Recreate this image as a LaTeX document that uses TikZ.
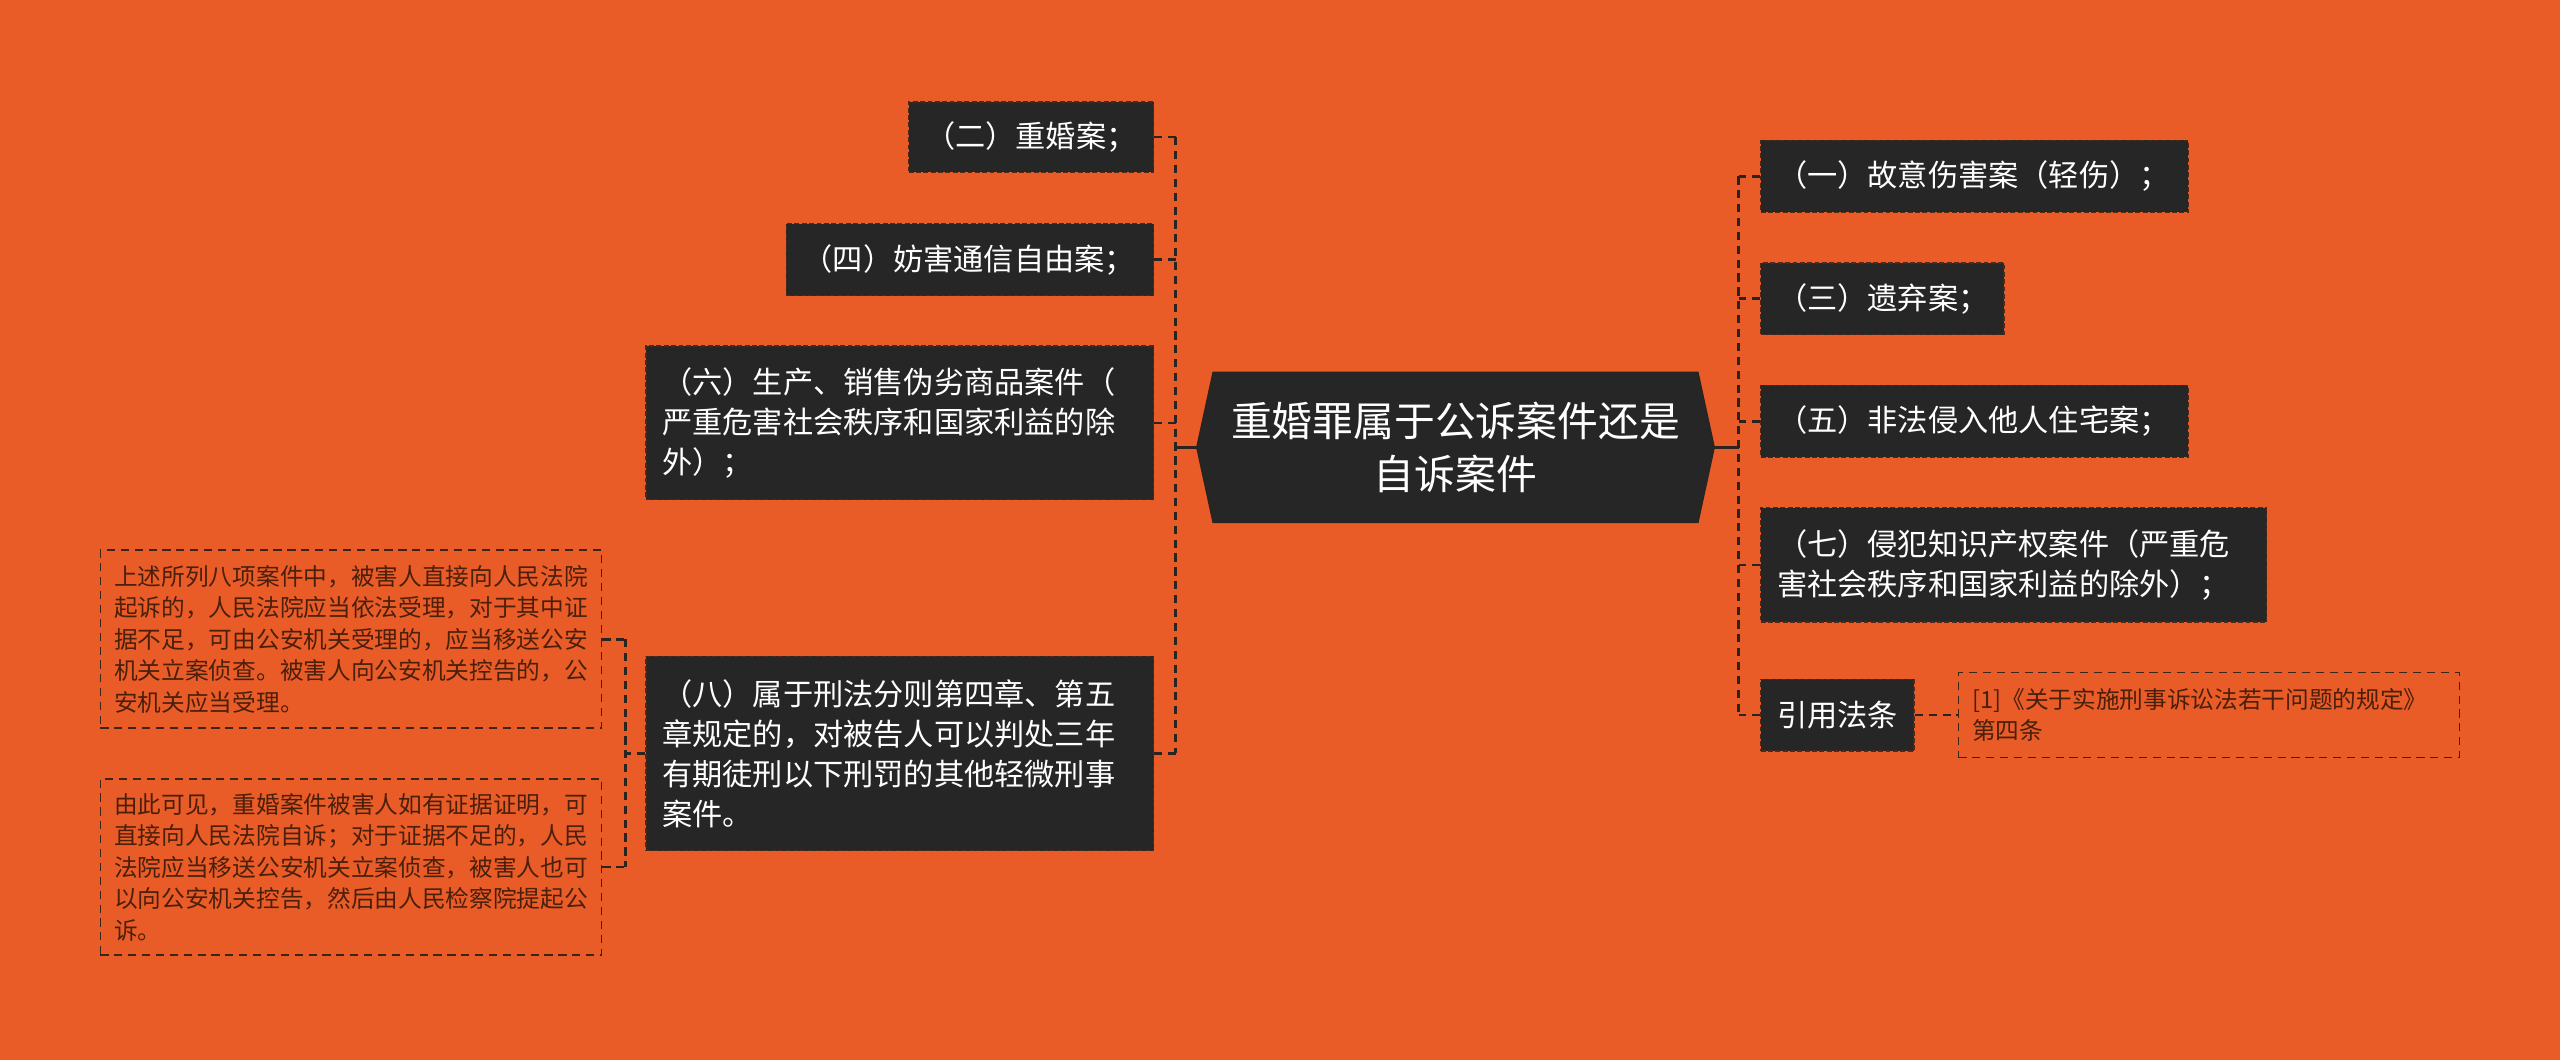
\documentclass[tikz,border=0pt]{standalone}
\usepackage{fontspec}
\newfontfamily\cjk{Noto Sans CJK SC}
\definecolor{bgorange}{HTML}{E95C27}
\definecolor{boxdark}{HTML}{262626}
\definecolor{boxedge}{HTML}{4A2A1C}
\definecolor{linedark}{HTML}{2B2320}
\definecolor{notetext}{HTML}{4A1F0C}
\definecolor{noteedge}{HTML}{3B2518}
\tikzset{
  dbox/.style={fill=boxdark, draw=boxedge, dash pattern=on 3pt off 1.5pt, line width=0.8pt,
    text=white, inner xsep=10pt, inner ysep=0pt, align=left,
    font=\cjk\fontsize{18.5}{24.5}\selectfont},
  notebox/.style={draw=noteedge, dash pattern=on 5pt off 3.5pt, line width=1pt,
    text=notetext, inner xsep=8.5pt, inner ysep=0pt, align=left,
    font=\cjk\fontsize{14.5}{19.3}\selectfont},
  conn/.style={draw=linedark, line width=1.6pt, dash pattern=on 5pt off 3.5pt},
  solidconn/.style={draw=linedark, line width=1.6pt},
}
\begin{document}
\begin{tikzpicture}[x=1pt,y=-1pt]
\useasboundingbox (0,0) rectangle (1568,649);
\fill[bgorange] (0,0) rectangle (1568,649);

% spines
\coordinate (lsp) at (720,0);
\coordinate (rsp) at (1065,0);
\coordinate (ssp) at (383,0);

% central node
\fill[boxdark, draw=linedark, line width=0.8pt] (743,228) -- (1040,228) -- (1050,274) -- (1040,320) -- (743,320) -- (733,274) -- cycle;
\node[text=white, align=center, font=\cjk\fontsize{25}{33}\selectfont, minimum width=297pt, minimum height=92pt, inner sep=0pt] (c) at (891.5,274) {重婚罪属于公诉案件还是\\自诉案件};
\coordinate (cl) at (733,274);
\coordinate (cr) at (1050,274);

% left boxes
\node[dbox, anchor=east, minimum width=150pt, minimum height=43pt, text width=130pt] (b2) at (707,84) {（二）重婚案；};
\node[dbox, anchor=east, minimum width=225pt, minimum height=44pt, text width=205pt] (b4) at (707,159) {（四）妨害通信自由案；};
\node[dbox, anchor=east, minimum width=311pt, minimum height=94pt, text width=291pt] (b6) at (707,259) {（六）生产、销售伪劣商品案件（\\严重危害社会秩序和国家利益的除\\外）；};
\node[dbox, anchor=east, minimum width=311pt, minimum height=119pt, text width=291pt] (b8) at (707,461.5) {（八）属于刑法分则第四章、第五\\章规定的，对被告人可以判处三年\\有期徒刑以下刑罚的其他轻微刑事\\案件。};

% notes
\node[notebox, anchor=east, minimum width=307pt, minimum height=109pt, text width=290pt] (n1) at (369,391.5) {上述所列八项案件中，被害人直接向人民法院\\起诉的，人民法院应当依法受理，对于其中证\\据不足，可由公安机关受理的，应当移送公安\\机关立案侦查。被害人向公安机关控告的，公\\安机关应当受理。};
\node[notebox, anchor=east, minimum width=307pt, minimum height=108pt, text width=290pt] (n2) at (369,531) {由此可见，重婚案件被害人如有证据证明，可\\直接向人民法院自诉；对于证据不足的，人民\\法院应当移送公安机关立案侦查，被害人也可\\以向公安机关控告，然后由人民检察院提起公\\诉。};

% right boxes
\node[dbox, anchor=west, minimum width=262pt, minimum height=44pt, text width=242pt] (r1) at (1078,108) {（一）故意伤害案（轻伤）；};
\node[dbox, anchor=west, minimum width=149pt, minimum height=44pt, text width=129pt] (r3) at (1078,183) {（三）遗弃案；};
\node[dbox, anchor=west, minimum width=262pt, minimum height=44pt, text width=242pt] (r5) at (1078,258) {（五）非法侵入他人住宅案；};
\node[dbox, anchor=west, minimum width=310pt, minimum height=70pt, text width=290pt] (r7) at (1078,346) {（七）侵犯知识产权案件（严重危\\害社会秩序和国家利益的除外）；};
\node[dbox, anchor=west, minimum width=94pt, minimum height=44pt, text width=74pt] (ref) at (1078,438) {引用法条};
\node[notebox, anchor=west, minimum width=306pt, minimum height=52pt, text width=290pt] (rn) at (1199,438) {[1]《关于实施刑事诉讼法若干问题的规定》\\第四条};

% connectors left
\draw[solidconn] (cl) -- (cl -| lsp);
\draw[conn] (b2.east -| lsp) -- (b8.east -| lsp);
\foreach \n in {b2,b4,b6,b8} \draw[conn] (\n.east) -- (\n.east -| lsp);

% connectors right
\draw[solidconn] (cr) -- (cr -| rsp);
\draw[conn] (r1.west -| rsp) -- (ref.west -| rsp);
\foreach \n in {r1,r3,r5,r7,ref} \draw[conn] (\n.west) -- (\n.west -| rsp);
\draw[conn] (ref.east) -- (rn.west);

% sub connectors
\draw[conn] (b8.west) -- (b8.west -| ssp);
\draw[conn] (n1.east -| ssp) -- (n2.east -| ssp);
\draw[conn] (n1.east) -- (n1.east -| ssp);
\draw[conn] (n2.east) -- (n2.east -| ssp);
\end{tikzpicture}
\end{document}
